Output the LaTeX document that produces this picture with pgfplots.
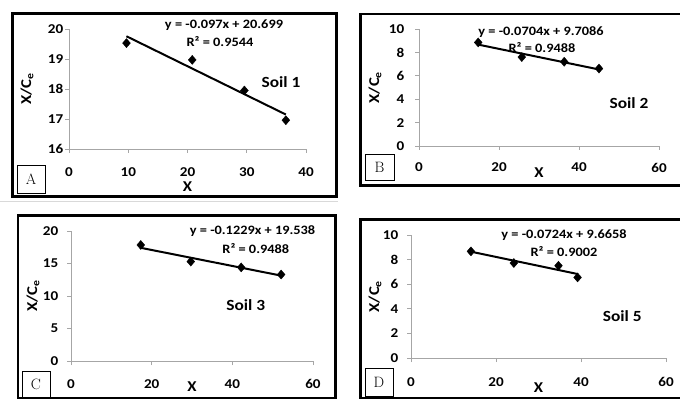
\documentclass[border=0pt]{standalone}
\usepackage{fontspec}
\usepackage{pgfplots}
\pgfplotsset{compat=1.18}
\newfontfamily\calfont[FakeStretch=1.12]{Carlito}
\pgfplotsset{
  panel/.style={
    scale only axis, clip=false, anchor=south west,
    axis lines*=left,
    axis line style={draw=black!35, line width=0.8pt},
    tick style={draw=black!35, line width=0.8pt},
    tick align=outside, major tick length=4pt,
    ticklabel style={font=\calfont\bfseries\fontsize{13.5}{15}\selectfont, inner sep=0.5pt},
    label style={font=\calfont\bfseries\fontsize{15}{17}\selectfont, inner sep=0.5pt},
    /pgf/number format/assume math mode=true,
    xlabel={X}, ylabel={X/C\textsubscript{e}},
    xlabel style={anchor=center},
    ylabel style={anchor=center},
  },
  pts/.style={only marks, mark=diamond*, mark size=4.5pt, black, mark options={fill=black, xscale=1.15}},
  trend/.style={black, line width=2pt, no marks},
}
\tikzset{
  eq/.style={font=\calfont\bfseries\fontsize{12.8}{14}\selectfont, inner sep=0pt},
  soil/.style={font=\calfont\bfseries\fontsize{15.5}{17}\selectfont, inner sep=0pt},
  lab/.style={draw=black, line width=0.8pt, font=\fontsize{15}{15}\selectfont, inner sep=0pt, anchor=center},
}
\begin{document}
\begin{tikzpicture}
\path[use as bounding box, fill=white] (0,0) rectangle (680pt,399pt);
% separator
\draw[black!15, line width=0.8pt] (0pt,198pt) -- (338pt,198pt);
% panel frames
\draw[line width=2.8pt] (12.5pt,385.5pt) rectangle (336.5pt,202.5pt);
\draw[line width=2.8pt] (360.5pt,385pt) rectangle (682pt,213.5pt);
\draw[line width=2.8pt] (18pt,183.5pt) rectangle (335.5pt,1pt);
\draw[line width=2.8pt] (360.5pt,179.5pt) rectangle (682pt,1pt);

% ---------- A ----------
\begin{axis}[panel, at={(69pt,250pt)}, width=237pt, height=120pt,
  xmin=0, xmax=40, xtick={0,10,20,30,40},
  ymin=16, ymax=20, ytick={16,17,18,19,20},
  xticklabel style={anchor=center, yshift=-19.5pt},
  yticklabel style={anchor=east, xshift=-1pt},
  xlabel style={at={(axis description cs:0.5,-0.31)}},
  ylabel style={at={(axis description cs:-0.177,0.5)}}]
\addplot[pts] coordinates {(9.7,19.53) (20.8,18.97) (29.6,17.95) (36.6,16.96)};
\addplot[trend] coordinates {(9.7,19.758) (36.6,17.149)};
\end{axis}

% ---------- B ----------
\begin{axis}[panel, at={(419pt,253pt)}, width=240pt, height=117pt,
  xmin=0, xmax=60, xtick={0,20,40,60},
  ymin=0, ymax=10, ytick={0,2,4,6,8,10},
  xticklabel style={anchor=center, yshift=-17.6pt},
  yticklabel style={anchor=east, xshift=-10pt},
  xlabel style={at={(axis description cs:0.5,-0.231)}},
  ylabel style={at={(axis description cs:-0.183,0.5)}}]
\addplot[pts] coordinates {(14.8,8.85) (25.7,7.6) (36.3,7.2) (45,6.62)};
\addplot[trend] coordinates {(14.8,8.667) (45,6.541)};
\end{axis}

% ---------- C ----------
\begin{axis}[panel, at={(71pt,38pt)}, width=242pt, height=130pt,
  xmin=0, xmax=60, xtick={0,20,40,60},
  ymin=0, ymax=20, ytick={0,5,10,15,20},
  xticklabel style={anchor=center, yshift=-19.4pt},
  yticklabel style={anchor=east, xshift=-8pt},
  xlabel style={at={(axis description cs:0.5,-0.2)}},
  ylabel style={at={(axis description cs:-0.157,0.5)}}]
\addplot[pts] coordinates {(17.3,17.85) (29.7,15.3) (42.2,14.4) (52.1,13.3)};
\addplot[trend] coordinates {(17.3,17.412) (52.1,13.135)};
\end{axis}

% ---------- D ----------
\begin{axis}[panel, at={(411pt,41pt)}, width=255pt, height=123pt,
  xmin=0, xmax=60, xtick={0,20,40,60},
  ymin=0, ymax=10, ytick={0,2,4,6,8,10},
  xticklabel style={anchor=center, yshift=-19.7pt},
  yticklabel style={anchor=east, xshift=-8pt},
  xlabel style={at={(axis description cs:0.5,-0.244)}},
  ylabel style={at={(axis description cs:-0.141,0.5)}}]
\addplot[pts] coordinates {(14.1,8.67) (24.2,7.72) (34.7,7.5) (39.2,6.55)};
\addplot[trend] coordinates {(14.1,8.645) (39.2,6.828)};
\end{axis}

% equations and soil labels
\node[eq] at (224pt,374pt) {y = -0.097x + 20.699};
\node[eq] at (220pt,357pt) {R² = 0.9544};
\node[soil] at (281pt,317pt) {Soil 1};
\node[eq] at (541pt,367pt) {y = -0.0704x + 9.7086};
\node[eq] at (542pt,351pt) {R² = 0.9488};
\node[soil] at (629pt,296pt) {Soil 2};
\node[eq] at (252.5pt,167.7pt) {y = -0.1229x + 19.538};
\node[eq] at (255.8pt,150.7pt) {R² = 0.9488};
\node[soil] at (245.8pt,94pt) {Soil 3};
\node[eq] at (564pt,164pt) {y = -0.0724x + 9.6658};
\node[eq] at (564pt,147.3pt) {R² = 0.9002};
\node[soil] at (622.3pt,82.7pt) {Soil 5};

% panel letters
\node[lab, minimum width=28pt, minimum height=28pt] at (31pt,220pt) {A};
\node[lab, minimum width=29pt, minimum height=26pt] at (379.5pt,232pt) {B};
\node[lab, minimum width=28pt, minimum height=26pt] at (36pt,15pt) {C};
\node[lab, minimum width=28pt, minimum height=28pt] at (379pt,17pt) {D};
\end{tikzpicture}
\end{document}
